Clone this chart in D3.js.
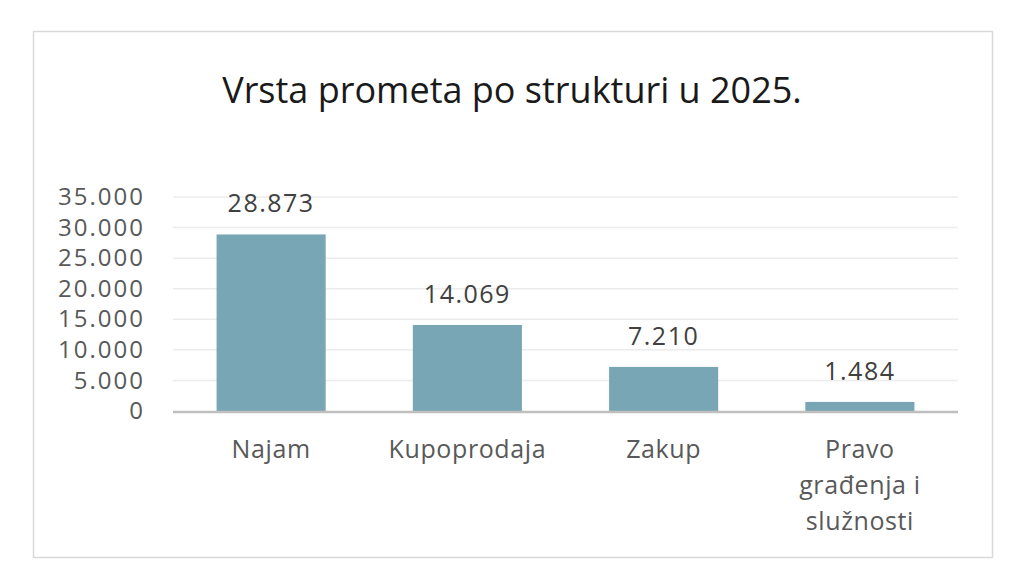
<!DOCTYPE html>
<html>
<head>
<meta charset="utf-8">
<script src="https://cdn.jsdelivr.net/npm/d3@7"></script>
<style>
  html, body { margin: 0; padding: 0; background: #fff; }
  svg { display: block; font-family: "Open Sans", "Noto Sans", sans-serif; }
</style>
</head>
<body>
<svg id="chart" width="1024" height="583"></svg>
<script>
// chart data
const TITLE = 'Vrsta prometa po strukturi u 2025.';
const categories = ['Najam', 'Kupoprodaja', 'Zakup', 'Pravo građenja i služnosti'];
const categoryLines = [['Najam'], ['Kupoprodaja'], ['Zakup'], ['Pravo', 'građenja i', 'služnosti']];
const values = [28873, 14069, 7210, 1484];
const yTicks = [0, 5000, 10000, 15000, 20000, 25000, 30000, 35000];

const W = 1024, H = 583;
const margin = { left: 173, right: 66, top: 197, bottom: 172 };

const locale = d3.formatLocale({ decimal: ',', thousands: '.', grouping: [3], currency: ['', ''] });
const fmt = locale.format(',d');

const svg = d3.select('#chart');

// outer frame
svg.append('rect')
  .attr('x', 33.5).attr('y', 31.5)
  .attr('width', 959).attr('height', 526)
  .attr('fill', '#fff')
  .attr('stroke', '#d9d9d9')
  .attr('stroke-width', 1.5);

svg.append('text')
  .attr('x', 512).attr('y', 103)
  .attr('text-anchor', 'middle')
  .attr('font-size', 36)
  .attr('fill', '#1a1a1a')
  .text(TITLE);

const x = d3.scaleBand()
  .domain(categories)
  .range([margin.left, W - margin.right])
  .paddingInner(0.444)
  .paddingOuter(0.222);

const y = d3.scaleLinear()
  .domain([0, 35000])
  .range([H - margin.bottom, margin.top]);

// gridlines
svg.append('g')
  .selectAll('line')
  .data(yTicks.slice(1))
  .join('line')
  .attr('x1', margin.left).attr('x2', W - margin.right)
  .attr('y1', d => y(d)).attr('y2', d => y(d))
  .attr('stroke', '#ececec')
  .attr('stroke-width', 1.5);

// y axis labels
const yAxis = svg.append('g')
  .attr('transform', `translate(${margin.left - 28},0)`)
  .call(d3.axisLeft(y).tickValues(yTicks).tickFormat(fmt).tickSize(0).tickPadding(0));
yAxis.select('.domain').remove();
yAxis.selectAll('text')
  .attr('font-family', '"Open Sans", "Noto Sans", sans-serif')
  .attr('font-size', 24)
  .attr('letter-spacing', 2)
  .attr('fill', '#595959');

// bars
svg.append('g')
  .selectAll('rect')
  .data(values)
  .join('rect')
  .attr('x', (d, i) => x(categories[i]))
  .attr('y', d => y(d))
  .attr('width', x.bandwidth())
  .attr('height', d => y(0) - y(d))
  .attr('fill', '#79a6b5');

// value labels
svg.append('g')
  .selectAll('text')
  .data(values)
  .join('text')
  .attr('x', (d, i) => x(categories[i]) + x.bandwidth() / 2)
  .attr('y', d => y(d) - 22)
  .attr('text-anchor', 'middle')
  .attr('font-size', 25)
  .attr('letter-spacing', 1.5)
  .attr('fill', '#404040')
  .text(d => fmt(d));

// x axis line
svg.append('line')
  .attr('x1', margin.left).attr('x2', W - margin.right)
  .attr('y1', y(0) + 1).attr('y2', y(0) + 1)
  .attr('stroke', '#bfbfbf')
  .attr('stroke-width', 2.5);

// category labels
const cat = svg.append('g')
  .selectAll('text')
  .data(categories)
  .join('text')
  .attr('x', d => x(d) + x.bandwidth() / 2)
  .attr('y', y(0) + 47)
  .attr('text-anchor', 'middle')
  .attr('font-size', 25)
  .attr('letter-spacing', 0.6)
  .attr('fill', '#595959');
cat.selectAll('tspan')
  .data((d, i) => categoryLines[i])
  .join('tspan')
  .attr('x', function () { return this.parentNode.getAttribute('x'); })
  .attr('dy', (d, i) => i === 0 ? 0 : 36)
  .text(d => d);
</script>
</body>
</html>
